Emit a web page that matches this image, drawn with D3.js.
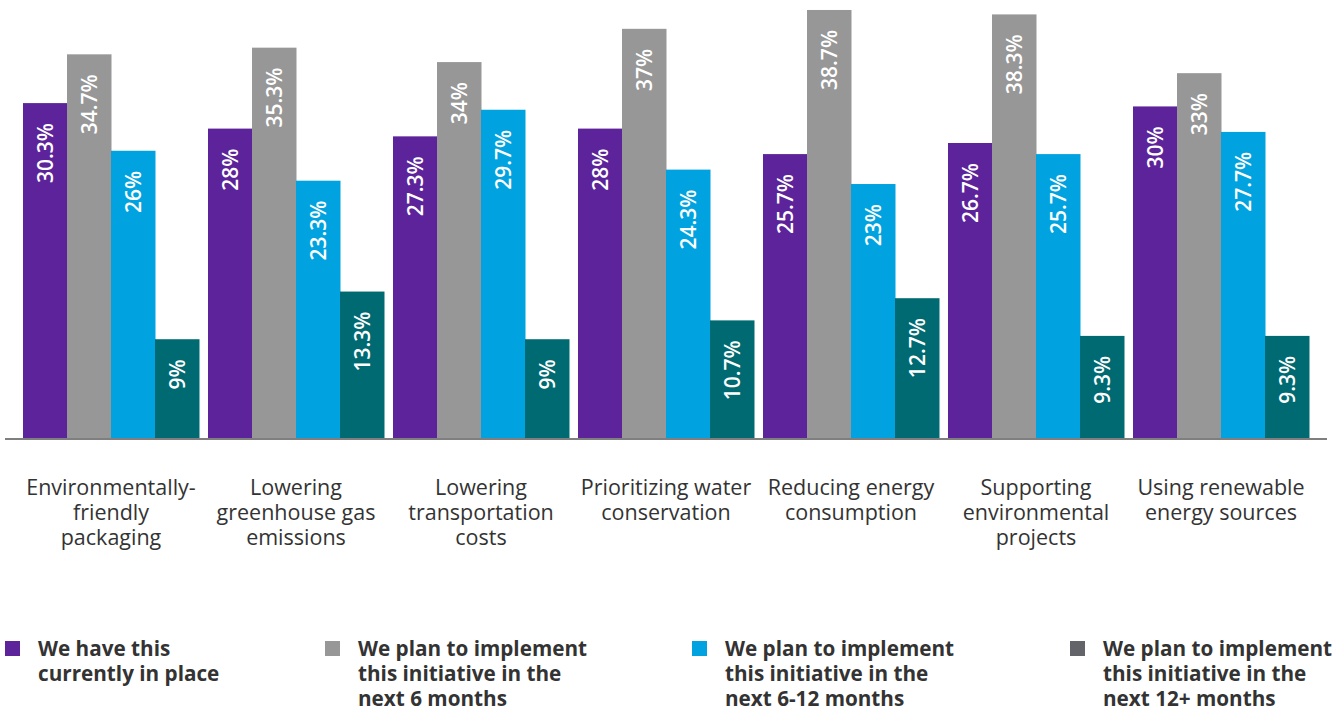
<!DOCTYPE html>
<html>
<head>
<meta charset="utf-8">
<script src="https://cdn.jsdelivr.net/npm/d3@7"></script>
<style>
  html, body { margin: 0; padding: 0; background: #fff; }
  svg { display: block; font-family: "Open Sans", "Noto Sans", sans-serif; }
</style>
</head>
<body>
<svg id="chart" width="1333" height="711"></svg>
<script>
// Sustainability initiatives by implementation status (%)
const categories = [
  ["Environmentally-", "friendly", "packaging"],
  ["Lowering", "greenhouse gas", "emissions"],
  ["Lowering", "transportation", "costs"],
  ["Prioritizing water", "conservation"],
  ["Reducing energy", "consumption"],
  ["Supporting", "environmental", "projects"],
  ["Using renewable", "energy sources"]
];
const seriesNames = [
  ["We have this", "currently in place"],
  ["We plan to implement", "this initiative in the", "next 6 months"],
  ["We plan to implement", "this initiative in the", "next 6-12 months"],
  ["We plan to implement", "this initiative in the", "next 12+ months"]
];
const inPlace      = [30.3, 28, 27.3, 28, 25.7, 26.7, 30];
const next6        = [34.7, 35.3, 34, 37, 38.7, 38.3, 33];
const next6to12    = [26, 23.3, 29.7, 24.3, 23, 25.7, 27.7];
const next12plus   = [9, 13.3, 9, 10.7, 12.7, 9.3, 9.3];
const seriesValues = [inPlace, next6, next6to12, next12plus];

const barColors    = ["#5C239B", "#979797", "#00A3E0", "#006A72"];
const legendColors = ["#5C239B", "#979797", "#00A3E0", "#626469"];

const svg = d3.select("#chart");
const baseline = 439;

const x0 = d3.scaleBand()
  .domain(d3.range(categories.length))
  .range([23, 1309])
  .paddingInner(9 / 185)
  .paddingOuter(0);

const x1 = d3.scaleBand()
  .domain(d3.range(seriesValues.length))
  .range([0, x0.bandwidth()]);

const y = d3.scaleLinear().domain([0, 39.6]).range([baseline, 0]);

// bars with rotated value labels
const groups = svg.append("g").selectAll("g")
  .data(categories)
  .join("g")
  .attr("transform", (d, i) => `translate(${x0(i)},0)`);

groups.each(function(cat, ci) {
  const g = d3.select(this);
  seriesValues.forEach((vals, si) => {
    const v = vals[ci];
    g.append("rect")
      .attr("x", x1(si))
      .attr("y", y(v))
      .attr("width", x1.bandwidth() + 0.5)
      .attr("height", baseline - y(v))
      .attr("fill", barColors[si]);
    const cx = x1(si) + x1.bandwidth() / 2;
    const ty = y(v) + 20;
    g.append("text")
      .attr("transform", `translate(${cx + 8},${ty}) rotate(-90)`)
      .attr("text-anchor", "end")
      .attr("fill", "#fff")
      .attr("font-size", 21)
      .attr("font-weight", 600)
      .text(`${v}%`);
  });
  // category label
  g.append("text")
    .attr("text-anchor", "middle")
    .attr("fill", "#333")
    .attr("font-size", 21.5)
    .selectAll("tspan")
    .data(cat)
    .join("tspan")
    .attr("x", x0.bandwidth() / 2)
    .attr("y", (d, i) => 495 + i * 25)
    .text(d => d);
});

// baseline axis
svg.append("g")
  .attr("transform", `translate(0,${baseline})`)
  .call(d3.axisBottom(x0).tickSize(0).tickFormat(""))
  .call(g => g.select(".domain")
    .attr("d", "M5,0H1327")
    .attr("stroke", "#7f7f7f")
    .attr("stroke-width", 2));

// legend
const legendX = [5, 325, 692, 1070];
const legend = svg.append("g").selectAll("g")
  .data(seriesNames)
  .join("g")
  .attr("transform", (d, i) => `translate(${legendX[i]},641)`);

legend.append("rect")
  .attr("width", 15)
  .attr("height", 15)
  .attr("fill", (d, i) => legendColors[i]);

legend.append("text")
  .attr("fill", "#333")
  .attr("font-size", 20.7)
  .attr("font-weight", 700)
  .selectAll("tspan")
  .data(d => d)
  .join("tspan")
  .attr("x", 33)
  .attr("y", (d, i) => 15 + i * 25)
  .text(d => d);
</script>
</body>
</html>
